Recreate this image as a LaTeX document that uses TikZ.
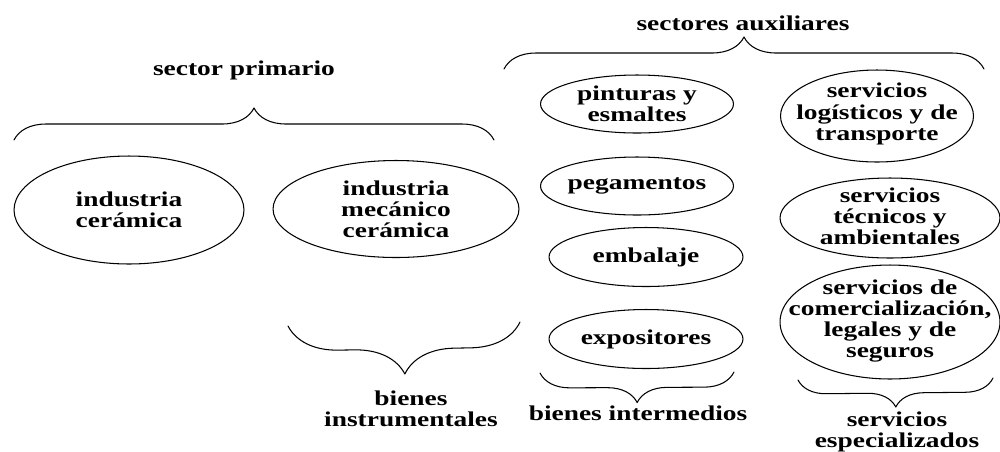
\documentclass[tikz,border=0pt]{standalone}
\usepackage{fontspec}
\setmainfont[FakeStretch=1.3]{Liberation Serif}
\usetikzlibrary{decorations.pathreplacing}
\begin{document}
\begin{tikzpicture}[x=0.02cm, y=-0.02cm, line width=0.6pt, line join=round, line cap=round,
	font=\fontsize{12}{12}\selectfont\bfseries,
	txt/.style={align=center, inner sep=0pt},
	llave/.style={decorate, decoration={brace, amplitude=#1}}]
	\useasboundingbox (0,0) rectangle (1000,451);
	% sector primario
	\node[txt] (ceram) at (129,210) {industria\\cerámica};
	\node[txt] (mecan) at (396,209) {industria\\mecánico\\cerámica};
	\draw (ceram) ellipse (2.3cm and 1.08cm);
	\draw (mecan) ellipse (2.46cm and 0.97cm);
	\coordinate (p1) at (14,140); \coordinate (p2) at (494,140);
	\draw[llave=0.64cm] (p1)--(p2);
	\node[txt] (prim) at (244,70) {sector primario};
	\coordinate (i1) at (288,326); \coordinate (i2) at (520,322);
	\draw[llave=1cm] (i2)--(i1);
	\node[txt] (instr) at (411,409) {bienes\\instrumentales};
	% sectores auxiliares
	\node[txt] (pint) at (637,104) {pinturas y\\esmaltes};
	\node[txt] (pega) at (637,186) {pegamentos};
	\node[txt] (emba) at (646,257) {embalaje};
	\node[txt] (expo) at (646,339) {expositores};
	\draw (pint) ellipse (1.93cm and 0.58cm);
	\draw (pega) ellipse (1.93cm and 0.58cm);
	\draw (emba) ellipse (1.94cm and 0.59cm);
	\draw (expo) ellipse (1.94cm and 0.59cm);
	\node[txt] (logis) at (877,114) {servicios\\logísticos y de\\transporte};
	\node[txt] (tecn) at (890,216) {servicios\\técnicos y\\ambientales};
	\node[txt] (comer) at (890,321) {servicios de\\comercialización,\\legales y de\\seguros};
	\draw (877,116) ellipse (1.93cm and 0.92cm);
	\draw (890,218) ellipse (2.2cm and 0.8cm);
	\draw (890,322) ellipse (2.2cm and 1.14cm);
	\coordinate (a1) at (504,69); \coordinate (a2) at (984,69);
	\draw[llave=0.64cm] (a1)--(a2);
	\node[txt] (aux) at (743,23) {sectores auxiliares};
	\coordinate (m1) at (540,373); \coordinate (m2) at (734,372);
	\draw[llave=0.6cm] (m2)--(m1);
	\node[txt] (inter) at (638,413) {bienes intermedios};
	\coordinate (s1) at (798,380); \coordinate (s2) at (993,378);
	\draw[llave=0.56cm] (s2)--(s1);
	\node[txt] (espec) at (897,432) {servicios\\especializados};
\end{tikzpicture}
\end{document}
